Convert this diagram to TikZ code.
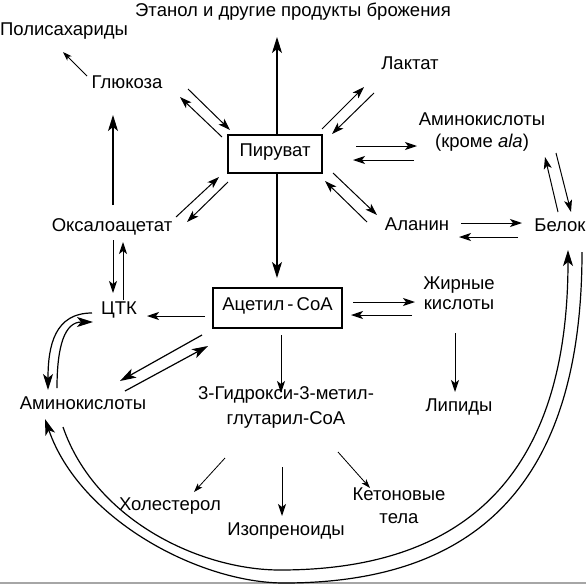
\documentclass[tikz,border=0pt]{standalone}
\usepackage{fontspec}
\setmainfont{Liberation Sans}
\usetikzlibrary{arrows.meta,calc}
\begin{document}
\begin{tikzpicture}[x=1pt,y=-1pt,
  lbl/.style={inner sep=0pt,font=\fontsize{18.5}{22}\selectfont,text height=0.7em,text depth=0.15em},
  boxn/.style={lbl,draw,line width=1.2pt,text depth=0.2em},
  arr/.style={-{Stealth[length=12pt,width=8pt,inset=3pt]},line width=1pt},
  big/.style={-{Stealth[length=16pt,width=10pt,inset=4pt]},line width=1.2pt},
  sm/.style={-{Stealth[length=9pt,width=6pt,inset=2.2pt]},line width=0.8pt}]
\useasboundingbox (0,0) rectangle (586,584);
\fill[gray!70] (0,581.5) rectangle (586,584);
% nodes
\node[lbl] (eth) at (293,14) {Этанол и другие продукты брожения};
\node[lbl] (poly) at (64,33) {Полисахариды};
\node[lbl] (gl) at (127,86) {Глюкоза};
\node[boxn,minimum width=94pt,minimum height=38pt] (pyr) at (275,154) {Пируват};
\node[lbl] (lac) at (410,67) {Лактат};
\node[lbl,align=center,font=\fontsize{18.5}{22.5}\selectfont] (aa1) at (482,145) {Аминокислоты\\(кроме \textit{ala})};
\node[lbl] (ala) at (417,228) {Аланин};
\node[lbl] (bel) at (560,229) {Белок};
\node[lbl] (oxa) at (112,229) {Оксалоацетат};
\node[lbl] (tca) at (119,312) {ЦТК};
\node[boxn,minimum width=129pt,minimum height=40pt] (acc) at (277.5,308) {Ацетил\,-\,CoA};
\node[lbl,align=center,font=\fontsize{18.5}{20.5}\selectfont] (fa) at (459,307) {Жирные\\кислоты};
\node[lbl] (aa2) at (83,407) {Аминокислоты};
\node[lbl,align=center,font=\fontsize{18.5}{25}\selectfont] (hmg) at (286,422) {3-Гидрокси-3-метил-\\глутарил-CoA};
\node[lbl] (lip) at (459,409) {Липиды};
\node[lbl] (chol) at (170,508) {Холестерол};
\node[lbl] (iso) at (286,533) {Изопреноиды};
\node[lbl,align=center,font=\fontsize{18.5}{23}\selectfont] (ket) at (399,521) {Кетоновые\\тела};
% connectors
\draw[sm] ($(gl)+(-40,-10)$) -- ($(poly)+(-1,19)$);
\draw[big] ($(pyr)+(2,-19)$) -- ($(eth)+(-16,23)$);
\draw[arr] ($(gl)+(61,3)$) -- ($(pyr)+(-45,-24)$);
\draw[arr] ($(pyr)+(-53,-17)$) -- ($(gl)+(53,11)$);
\draw[arr] ($(pyr)+(47,-25)$) -- ($(lac)+(-46,20)$);
\draw[arr] ($(lac)+(-36,26)$) -- ($(pyr)+(57,-20)$);
\draw[arr] ($(pyr)+(81,-8)$) -- ($(aa1)+(-65,1)$);
\draw[arr] ($(aa1)+(-68,15)$) -- ($(pyr)+(78,6)$);
\draw[arr] ($(pyr)+(58,19)$) -- ($(ala)+(-40,-13)$);
\draw[arr] ($(ala)+(-50,-6)$) -- ($(pyr)+(50,27)$);
\draw[arr] ($(ala)+(44,-5)$) -- ($(bel)+(-38,-6)$);
\draw[arr] ($(bel)+(-42,8)$) -- ($(ala)+(42,9)$);
\draw[arr] ($(bel)+(-2,-17)$) -- ($(aa1)+(63,12)$);
\draw[arr] ($(aa1)+(74,8)$) -- ($(bel)+(11,-17)$);
\draw[big] ($(oxa)+(1,-24)$) -- ($(gl)+(-14,29)$);
\draw[arr] ($(oxa)+(64,-12)$) -- ($(pyr)+(-56,23)$);
\draw[arr] ($(pyr)+(-47,28)$) -- ($(oxa)+(75,-7)$);
\draw[arr] ($(oxa)+(1,11)$) -- ($(tca)+(-6,-19)$);
\draw[arr] ($(tca)+(4,-12)$) -- ($(oxa)+(11,13)$);
\draw[big] ($(pyr)+(2,19)$) -- ($(acc)+(-0.5,-30)$);
\draw[arr] ($(acc)+(-72.5,8)$) -- ($(tca)+(28,4)$);
\draw[big] ($(tca)+(-27,1)$) .. controls ($(tca)+(-64,1)$) and ($(aa2)+(-35,-62)$) .. ($(aa2)+(-35,-17)$);
\draw[big] ($(aa2)+(-26,-19)$) .. controls ($(aa2)+(-26,-62)$) and ($(tca)+(-54,10)$) .. ($(tca)+(-26,10)$);
\draw[big] ($(acc)+(-75.5,27)$) -- ($(aa2)+(37,-26)$);
\draw[big] ($(aa2)+(42,-16)$) -- ($(acc)+(-69.5,38)$);
\draw[arr] ($(acc)+(75.5,-6)$) -- ($(fa)+(-44,-5)$);
\draw[arr] ($(fa)+(-47,8)$) -- ($(acc)+(73.5,7)$);
\draw[arr] ($(acc)+(3.5,27)$) -- ($(hmg)+(-5,-29)$);
\draw[arr] ($(fa)+(-4,26)$) -- ($(lip)+(-4,-17)$);
\draw[sm] ($(hmg)+(-61,36)$) -- ($(chol)+(24,-16)$);
\draw[arr] ($(hmg)+(-4,45)$) -- ($(iso)+(-4,-17)$);
\draw[sm] ($(hmg)+(52,30)$) -- ($(ket)+(-29,-33)$);
% big arcs
\draw[big] ($(bel)+(22,23)$) .. controls ($(bel)+(22,251)$) and (480,583) .. (284,583)
  .. controls (200,583) and (80,520) .. ($(aa2)+(-38,12)$);
\draw[big] ($(aa2)+(-20,20)$) .. controls (95,520) and (200,570) .. (280,570)
  .. controls (470,570) and (568,470) .. ($(bel)+(8,21)$);
\end{tikzpicture}
\end{document}
